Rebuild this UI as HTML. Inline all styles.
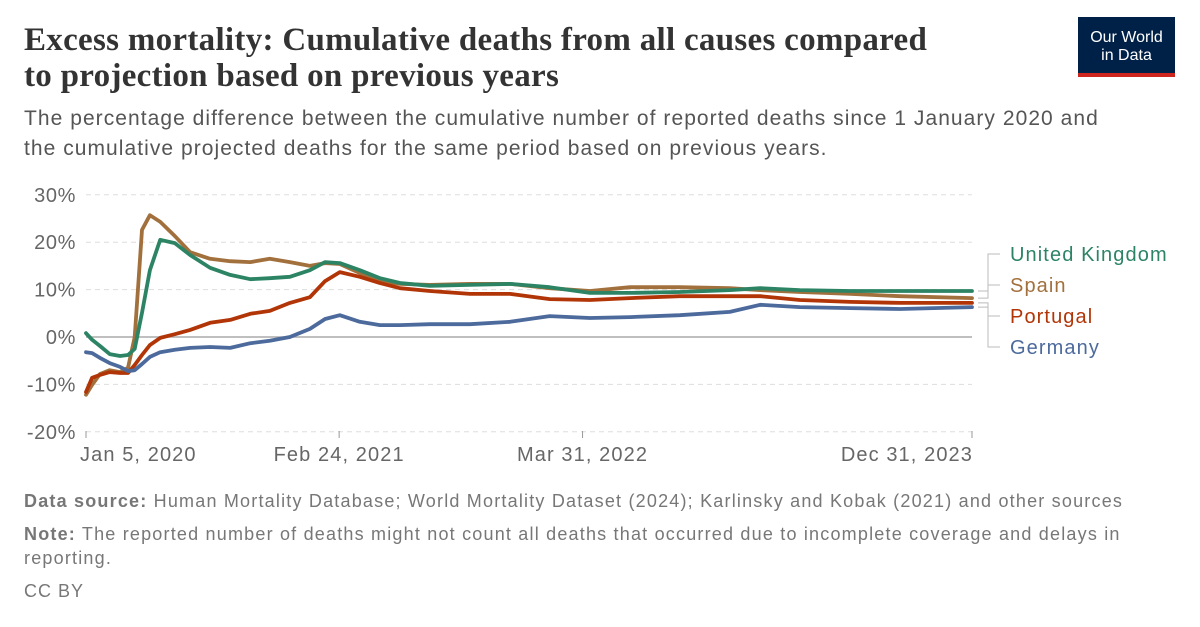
<!DOCTYPE html>
<html><head><meta charset="utf-8"><style>
body{margin:0;width:1200px;height:627px;background:#fff;font-family:"Liberation Sans",sans-serif;overflow:hidden;position:relative}
.t{position:absolute;margin:0;white-space:nowrap}
</style></head><body>
<h1 class="t" style="left:24px;top:22px;font-family:'Liberation Serif',serif;font-size:33px;line-height:36px;color:#333;font-weight:600;letter-spacing:0.3px">Excess mortality: Cumulative deaths from all causes compared<br>to projection based on previous years</h1>
<div class="t" style="left:1078px;top:17px;width:97px;height:60px;background:#002147;color:#fff;font-size:16px;line-height:18px;text-align:center;box-sizing:border-box;padding-top:12px;border-bottom:4px solid #ce261e">Our World<br>in Data</div>
<p class="t" style="left:24px;top:104px;font-size:21px;line-height:30px;color:#555;letter-spacing:1.05px">The percentage difference between the cumulative number of reported deaths since 1 January 2020 and<br>the cumulative projected deaths for the same period based on previous years.</p>
<svg class="t" style="left:0;top:0" width="1200" height="627" id="svg"></svg>
<p class="t" style="left:24px;top:489px;font-size:18px;line-height:24px;color:#777;letter-spacing:1.2px"><b>Data source:</b> Human Mortality Database; World Mortality Dataset (2024); Karlinsky and Kobak (2021) and other sources</p>
<p class="t" style="left:24px;top:522px;font-size:18px;line-height:24px;color:#777;letter-spacing:1.2px"><b>Note:</b> The reported number of deaths might not count all deaths that occurred due to incomplete coverage and delays in<br>reporting.</p>
<p class="t" style="left:24px;top:579px;font-size:18px;line-height:24px;color:#777;letter-spacing:1px">CC BY</p>
<script>
const days=[0,10,23,39,56,69,80,92,105,122,146,171,204,237,270,302,335,368,393,417,450,483,516,565,631,697,762,828,894,976,1058,1108,1173,1256,1338,1456];
const ukVals=[0.8,-0.6,-1.9,-3.6,-4.0,-3.8,-2.5,5.1,14.1,20.5,19.8,17.3,14.6,13.1,12.2,12.4,12.7,14.1,15.8,15.6,14.1,12.4,11.4,10.8,11.0,11.2,10.5,9.3,9.3,9.5,9.9,10.3,9.9,9.7,9.7,9.7];
const esVals=[-12.2,-10.1,-7.8,-7.0,-7.4,-6.5,0,22.6,25.7,24.3,21.3,17.9,16.5,16.0,15.8,16.5,15.8,15.0,15.6,15.4,13.5,11.8,11.2,11.0,11.2,11.2,10.3,9.7,10.5,10.5,10.3,9.9,9.5,9.1,8.6,8.2];
const ptVals=[-11.6,-8.6,-8.0,-7.4,-7.6,-7.6,-5.9,-3.8,-1.7,-0.2,0.6,1.5,3.0,3.6,4.9,5.5,7.2,8.4,11.8,13.7,12.7,11.4,10.3,9.7,9.1,9.1,8.0,7.8,8.2,8.6,8.6,8.6,7.8,7.4,7.2,7.2];
const deVals=[-3.2,-3.4,-4.4,-5.5,-6.3,-7.2,-7.0,-5.7,-4.2,-3.2,-2.7,-2.3,-2.1,-2.3,-1.3,-0.8,0,1.7,3.8,4.6,3.2,2.5,2.5,2.7,2.7,3.2,4.4,4.0,4.2,4.6,5.3,6.8,6.3,6.1,5.9,6.3];
const yTicks=[-20,-10,0,10,20,30];
const xTickDays=[0,416,816,1456];
const xTickLabels=["Jan 5, 2020","Feb 24, 2021","Mar 31, 2022","Dec 31, 2023"];
const names=["United Kingdom","Spain","Portugal","Germany"];
const NS="http://www.w3.org/2000/svg",svg=document.getElementById('svg');
const X=d=>86+d*(886/1456), Y=v=>337-v*4.74;
function mk(t,a,p){const e=document.createElementNS(NS,t);for(const k in a)e.setAttribute(k,a[k]);(p||svg).appendChild(e);return e;}
yTicks.forEach(v=>{
 const l=mk('line',{x1:86,x2:972,y1:Y(v),y2:Y(v),stroke:v==0?'#aaa':'#ddd','stroke-width':v==0?1.5:1,'stroke-dasharray':v==0?'':'5,4'});
 
 
 const t=mk('text',{x:76,y:Y(v)+7,'text-anchor':'end','font-size':20,fill:'#666','letter-spacing':'0.6'});
 t.textContent=v+'%';
 
 
});
xTickDays.forEach((d,i)=>{
 const l=mk('line',{x1:X(d),x2:X(d),y1:431,y2:438,stroke:'#999'});
 
 
 const t=mk('text',{x:i==0?X(d)-6:i==3?X(d)+1:X(d),y:461,'text-anchor':i==0?'start':i==3?'end':'middle','font-size':20,fill:'#666','letter-spacing':'1.1'});
 t.textContent=xTickLabels[i];
 
 
});
const series=[[esVals,'#a2703c'],[ptVals,'#b13507'],[deVals,'#4c6a9c'],[ukVals,'#2c8465']];
series.forEach(([vals,c])=>{
 const p=mk('path',{d:days.map((d,i)=>(i?'L':'M')+X(d).toFixed(1)+','+Y(vals[i]).toFixed(1)).join(''),fill:'none',stroke:c,'stroke-width':3.8,'stroke-linejoin':'round','stroke-linecap':'round'});
 
 
});
const labY=[254,285,316,347],labC=['#2c8465','#a2703c','#b13507','#4c6a9c'];
const endVals=[ukVals,esVals,ptVals,deVals].map(a=>a[a.length-1]);
names.forEach((n,i)=>{
 const ey=Y(endVals[i]),ly=labY[i];
 const c=mk('path',{d:`M978,${ey}H988V${ly}H1000`,fill:'none',stroke:'#bbb','stroke-width':1});
 
 
 const t=mk('text',{x:1010,y:ly+7,'font-size':20,fill:labC[i],'letter-spacing':'1.1'});
 t.textContent=n;
 
 
});
</script>
</body></html>
